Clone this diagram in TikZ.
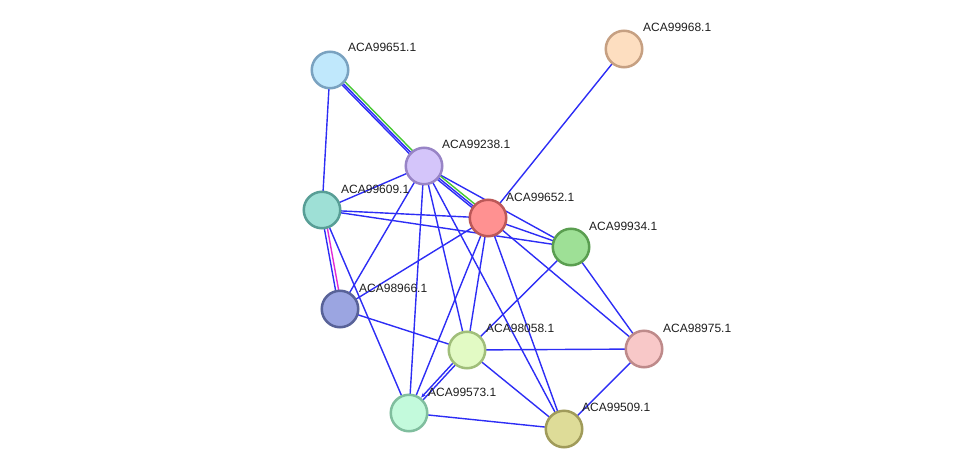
\documentclass[tikz,border=0pt]{standalone}
\usepackage{fontspec}
\setsansfont{Liberation Sans}
\usetikzlibrary{arrows.meta,backgrounds}
\definecolor{edgeblue}{RGB}{45,45,245}
\definecolor{edgegreen}{RGB}{70,200,50}
\definecolor{edgepink}{RGB}{225,40,215}
\tikzstyle{protein}=[circle,draw,line width=2.5pt,minimum size=36.5pt,inner sep=0pt]
\tikzstyle{plabel}=[anchor=west,inner sep=0pt,font=\sffamily\fontsize{12}{14}\selectfont,text=black!88]
\tikzstyle{link}=[draw=edgeblue,line width=1.4pt]

\begin{document}
\begin{tikzpicture}[x=1pt,y=-1pt]
\useasboundingbox (0,0) rectangle (975,474);
% proteins
\node [protein,fill={rgb,255:red,192;green,232;blue,252},draw={rgb,255:red,122;green,162;blue,192}] (n99651) at (330,70) {};
\node [protein,fill={rgb,255:red,253;green,222;blue,192},draw={rgb,255:red,198;green,160;blue,130}] (n99968) at (624,49) {};
\node [protein,fill={rgb,255:red,212;green,197;blue,250},draw={rgb,255:red,152;green,132;blue,198}] (n99238) at (424,166) {};
\node [protein,fill={rgb,255:red,158;green,224;blue,214},draw={rgb,255:red,88;green,158;blue,150}] (n99609) at (322,210) {};
\node [protein,fill={rgb,255:red,255;green,145;blue,145},draw={rgb,255:red,188;green,88;blue,88}] (n99652) at (488,218) {};
\node [protein,fill={rgb,255:red,158;green,224;blue,150},draw={rgb,255:red,90;green,158;blue,80}] (n99934) at (571,247) {};
\node [protein,fill={rgb,255:red,155;green,165;blue,225},draw={rgb,255:red,88;green,98;blue,152}] (n98966) at (340,309) {};
\node [protein,fill={rgb,255:red,226;green,250;blue,196},draw={rgb,255:red,160;green,190;blue,122}] (n98058) at (467,350) {};
\node [protein,fill={rgb,255:red,248;green,200;blue,200},draw={rgb,255:red,190;green,138;blue,138}] (n98975) at (644,349) {};
\node [protein,fill={rgb,255:red,195;green,250;blue,220},draw={rgb,255:red,128;green,190;blue,158}] (n99573) at (409,413) {};
\node [protein,fill={rgb,255:red,222;green,220;blue,152},draw={rgb,255:red,160;green,155;blue,90}] (n99509) at (564,429) {};
% names
\node [plabel] (l99651) at (348,47) {ACA99651.1};
\node [plabel] (l99968) at (643,27) {ACA99968.1};
\node [plabel] (l99238) at (442,144) {ACA99238.1};
\node [plabel] (l99609) at (341,189) {ACA99609.1};
\node [plabel] (l99652) at (506,197) {ACA99652.1};
\node [plabel] (l99934) at (589,226) {ACA99934.1};
\node [plabel] (l98966) at (359,288) {ACA98966.1};
\node [plabel] (l98058) at (486,328) {ACA98058.1};
\node [plabel] (l98975) at (663,328) {ACA98975.1};
\node [plabel] (l99573) at (428,392) {ACA99573.1};
\node [plabel] (l99509) at (582,407) {ACA99509.1};
% links
\begin{scope}[on background layer]
\foreach \a/\b in {99651/99609,99968/99652,99609/99238,99609/99652,99609/99934,
    99609/99573,99238/98966,99238/99934,99238/98058,99238/99573,99238/99509,
    99652/98966,99652/99934,99652/98975,99652/98058,99652/99573,99652/99509,
    99934/98975,99934/98058,98966/98058,98058/98975,98058/99509,98975/99509,
    99573/99509}
  \draw [link] (n\a.center) -- (n\b.center);
\draw [link,transform canvas={shift={(1.8,-1.75)}},draw=edgegreen] (n99651.center) -- (n99238.center);
\draw [link] (n99651.center) -- (n99238.center);
\draw [link,transform canvas={shift={(-1.3,1.3)}}] (n99651.center) -- (n99238.center);
\draw [link,transform canvas={shift={(1.6,-1.9)}},draw=edgegreen] (n99238.center) -- (n99652.center);
\draw [link] (n99238.center) -- (n99652.center);
\draw [link,transform canvas={shift={(-1.3,1.5)}}] (n99238.center) -- (n99652.center);
\draw [link,transform canvas={shift={(2,-0.4)}},draw=edgepink] (n99609.center) -- (n98966.center);
\draw [link,transform canvas={shift={(-1,0.2)}}] (n99609.center) -- (n98966.center);
\draw [link,transform canvas={shift={(1.1,1)}}] (n98058.center) -- (n99573.center);
\draw [link,transform canvas={shift={(-1.1,-1)}},-{Stealth[length=5pt,width=4pt]}] (n98058) -- (n99573);
\end{scope}
\end{tikzpicture}
\end{document}
